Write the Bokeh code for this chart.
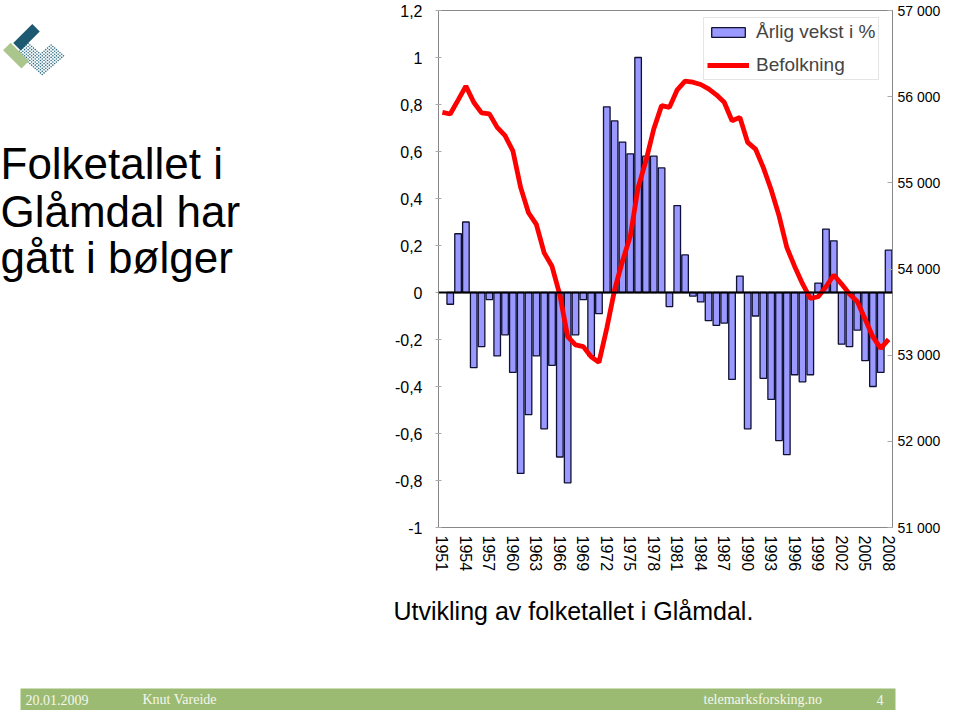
import math
from bokeh.plotting import figure
from bokeh.models import (Range1d, LinearAxis, FixedTicker, CustomJSTickFormatter,
                          Span, Legend, LegendItem)
from bokeh.layouts import row, column
from bokeh.embed import file_html
from bokeh.resources import INLINE
from bokeh.core.properties import value

# ---------------- data ----------------
years = list(range(1951, 2009))
growth_years = list(range(1952, 2009))
growth = [-0.05, 0.25, 0.30, -0.32, -0.23, -0.03, -0.27, -0.18, -0.34, -0.77,
          -0.52, -0.27, -0.58, -0.31, -0.70, -0.81, -0.18, -0.03, -0.27, -0.09,
          0.79, 0.73, 0.64, 0.59, 1.00, 0.58, 0.58, 0.53, -0.06, 0.37,
          0.16, -0.015, -0.04, -0.12, -0.14, -0.13, -0.37, 0.07, -0.58, -0.10,
          -0.365, -0.455, -0.63, -0.69, -0.35, -0.38, -0.35, 0.04, 0.27, 0.22,
          -0.22, -0.23, -0.16, -0.29, -0.40, -0.34, 0.18]
population = [55818, 55799, 55960, 56122, 55935, 55811, 55800, 55644, 55547, 55372,
              54944, 54653, 54517, 54187, 54031, 53700, 53216, 53119, 53099, 52982,
              52916, 53312, 53760, 54090, 54380, 54944, 55255, 55625, 55896, 55876,
              56080, 56180, 56168, 56141, 56091, 56021, 55935, 55721, 55760, 55469,
              55392, 55177, 54920, 54620, 54250, 54030, 53830, 53660, 53678, 53794,
              53930, 53825, 53709, 53623, 53420, 53211, 53079, 53184]
left_ticks = [-1.0, -0.8, -0.6, -0.4, -0.2, 0.0, 0.2, 0.4, 0.6, 0.8, 1.0, 1.2]
right_ticks = [51000, 52000, 53000, 54000, 55000, 56000, 57000]
year_ticks = list(range(1951, 2009, 3))
title_lines = ["Folketallet i", "Glåmdal har", "gått i bølger"]
caption = "Utvikling av folketallet i Glåmdal."
footer_texts = ["20.01.2009", "Knut Vareide", "telemarksforsking.no", "4"]

FONT = "Liberation Sans"

# ---------------- main chart ----------------
p = figure(width=565, height=590, output_backend="svg", toolbar_location=None,
           x_range=Range1d(1950.5, 2008.5), y_range=Range1d(-1, 1.2),
           min_border_left=60, min_border_right=49, min_border_top=10,
           min_border_bottom=63)
p.extra_y_ranges = {"pop": Range1d(51000, 57000)}
p.xgrid.visible = False
p.ygrid.visible = False
p.outline_line_color = "#888888"
p.background_fill_color = "white"

bars = p.vbar(x=growth_years, top=growth, bottom=0, width=0.84,
              fill_color="#9999ff", line_color="#111133", line_width=1.3)
p.add_layout(Span(location=0, dimension="width", line_color="black", line_width=2))
pop_line = p.line(years, population, y_range_name="pop", line_color="#ff0000",
                  line_width=4.8)

yl = p.yaxis[0]
yl.ticker = FixedTicker(ticks=left_ticks)
yl.formatter = CustomJSTickFormatter(
    code="var s = (Math.round(tick*10)/10).toString(); return s.replace('.', ',');")
yl.major_label_text_font = FONT
yl.major_label_text_font_size = "16px"
yl.major_label_text_color = "black"
yl.axis_line_color = "#888888"
yl.major_tick_line_color = "#aaaaaa"
yl.major_tick_in = 3
yl.major_tick_out = 3
yl.minor_tick_line_color = None
yl.major_label_standoff = 13

yr = LinearAxis(y_range_name="pop", ticker=FixedTicker(ticks=right_ticks),
                formatter=CustomJSTickFormatter(
                    code=r"return Math.round(tick).toString().replace(/\B(?=(\d{3})+(?!\d))/g, ' ');"))
yr.major_label_text_font = FONT
yr.major_label_text_font_size = "14px"
yr.major_label_text_color = "black"
yr.axis_line_color = "#888888"
yr.major_tick_line_color = "#aaaaaa"
yr.major_tick_in = 5
yr.major_tick_out = 0
yr.minor_tick_line_color = None
yr.major_label_standoff = 5
p.add_layout(yr, "right")

xa = p.xaxis[0]
xa.ticker = FixedTicker(ticks=year_ticks)
xa.major_label_orientation = -math.pi / 2
xa.major_label_text_font = FONT
xa.major_label_text_font_size = "16px"
xa.major_label_text_color = "black"
xa.axis_line_color = None
xa.major_tick_line_color = None
xa.minor_tick_line_color = None
xa.major_label_standoff = 2

legend = Legend(items=[LegendItem(label="Årlig vekst i %", renderers=[bars]),
                       LegendItem(label="Befolkning", renderers=[pop_line])],
                location=(265, 447), orientation="vertical",
                label_text_font=FONT, label_text_font_size="19px",
                glyph_width=42, glyph_height=12, label_standoff=7,
                padding=3, spacing=11, margin=0,
                border_line_color="#cccccc", border_line_width=1,
                background_fill_color="white", background_fill_alpha=1.0)
p.add_layout(legend)

# ---------------- left panel: logo + title ----------------
lf = figure(width=378, height=590, output_backend="svg", toolbar_location=None,
            x_range=Range1d(0, 378), y_range=Range1d(590, 0),
            x_axis_location=None, y_axis_location=None, min_border=0)
lf.xgrid.visible = False
lf.ygrid.visible = False
lf.outline_line_color = None

# logo (decorative)
dx, dy = [], []
cx, cy = 40, 50
for i in range(-7, 8):
    for j in range(-6, 7):
        u, v = i * 2.5, j * 2.5
        if (j < 0 and i > -1) or (j >= 0):
            dx.append(cx + (u - v) / math.sqrt(2))
            dy.append(cy + (u + v) / math.sqrt(2))
lf.scatter(dx, dy, size=1.6, color="#2f6e85", line_color=None)
lf.rect(x=[26], y=[30.5], width=27, height=12, angle=math.pi / 4,
        fill_color="#1d5a72", line_color=None)
lf.rect(x=[15.5], y=[51.5], width=26, height=12, angle=-math.pi / 4,
        fill_color="#abc68d", line_color=None)

lf.text(x=[0, 0, 0], y=[175, 229, 282], text=title_lines,
        text_font=value(FONT), text_font_size="44px", text_color="black",
        text_baseline="alphabetic", text_align="left")

# ---------------- bottom panel: caption + footer ----------------
bf = figure(width=943, height=120, output_backend="svg", toolbar_location=None,
            x_range=Range1d(0, 943), y_range=Range1d(710, 590),
            x_axis_location=None, y_axis_location=None, min_border=0)
bf.xgrid.visible = False
bf.ygrid.visible = False
bf.outline_line_color = None

bf.text(x=[393], y=[610], text=[caption], text_font=value(FONT),
        text_font_size="25px", text_color="black", text_baseline="alphabetic")
bf.quad(left=[20], right=[895], top=[688], bottom=[710], fill_color="#9bbb72",
        line_color=None)
bf.text(x=[25, 142, 703, 876], y=[699, 699, 699, 699], text=footer_texts,
        text_font=value("Liberation Serif"), text_font_size="14px",
        text_color="#f6f6ee", text_baseline="middle", text_align="left")

layout = column(row(lf, p), bf)
open("out.html", "w").write(file_html(layout, INLINE))
